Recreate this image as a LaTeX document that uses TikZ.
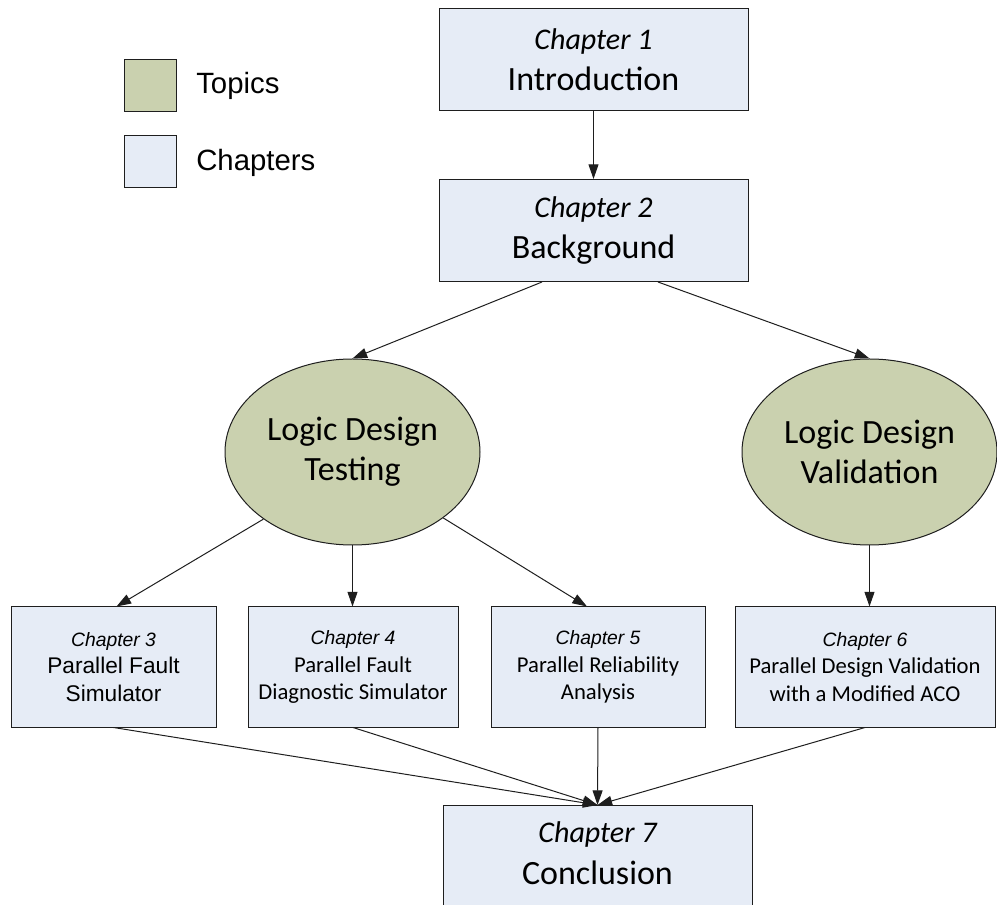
\documentclass[tikz,border=0pt]{standalone}
\usepackage{fontspec}
\setmainfont{Carlito}
\newfontfamily\arialfont{Liberation Sans}
\usetikzlibrary{arrows.meta,shapes.geometric,calc}

\definecolor{chapfill}{RGB}{230,236,246}
\definecolor{topicfill}{RGB}{202,209,175}
\definecolor{edgecol}{RGB}{30,30,30}

% chapter number lines
\newcommand\bigchapnum{\fontsize{22.5}{26}\selectfont\itshape}
\newcommand\smallchapnum{\arialfont\itshape\fontsize{14.5}{17}\selectfont}

\begin{document}
\begin{tikzpicture}[x=0.75pt,y=-0.75pt,
  chapbox/.style={draw=edgecol, line width=0.75pt, fill=chapfill, rectangle,
    inner sep=0pt, align=center},
  bigchap/.style={chapbox, minimum width=231.75pt, minimum height=76.5pt,
    font=\fontsize{25.5}{31}\selectfont},
  smallchap/.style={chapbox, minimum height=90pt,
    font=\fontsize{17}{20.5}\selectfont},
  topic/.style={draw=edgecol, line width=0.75pt, fill=topicfill, ellipse,
    inner sep=0pt, minimum width=191.25pt, minimum height=139.5pt,
    align=center, font=\fontsize{25.5}{30}\selectfont},
  legsq/.style={draw=edgecol, line width=0.75pt, minimum size=39pt, inner sep=0pt},
  legtext/.style={font=\arialfont\fontsize{22}{26}\selectfont, inner sep=0pt, anchor=base west},
  arr/.style={draw=edgecol, line width=0.75pt, -{Triangle[length=11pt,width=7.5pt]}}]

\useasboundingbox (0,0) rectangle (997,905);

% legend
\node[legsq, fill=topicfill] (legtopic) at (150,86) {};
\node[legsq, fill=chapfill] (legchap) at (150,162) {};
\node[legtext] (legtopiclbl) at (196,94) {Topics};
\node[legtext] (legchaplbl) at (196,171) {Chapters};

% chapters 1 and 2
\node[bigchap] (ch1) at (593.5,59.5) {{\bigchapnum Chapter 1}\\Introduction};
\node[bigchap] (ch2) at (593.5,230.5) {{\bigchapnum Chapter 2}\\Background};

% topics
\node[topic] (e1) at (352.5,452) {Logic Design\\Testing};
\node[topic] (e2) at (869.5,452) {Logic Design\\Validation};

% chapters 3 to 6
\node[smallchap, minimum width=153.75pt, font=\arialfont\fontsize{17}{20.5}\selectfont]
  (ch3) at (113.5,667) {{\smallchapnum Chapter 3}\\Parallel Fault\\Simulator};
\node[smallchap, minimum width=157.5pt] (ch4) at (353,667)
  {{\smallchapnum Chapter 4}\\Parallel Fault\\Diagnostic Simulator};
\node[smallchap, minimum width=160.5pt] (ch5) at (598,667)
  {{\smallchapnum Chapter 5}\\Parallel Reliability\\Analysis};
\node[smallchap, minimum width=195pt] (ch6) at (865,667)
  {{\smallchapnum Chapter 6}\\Parallel Design Validation\\with a Modified ACO};

% chapter 7, running off the bottom edge
\node[chapbox, minimum width=231.75pt, minimum height=80pt, anchor=north,
  label={[anchor=north, yshift=-12pt, inner sep=0pt, align=center,
    font=\fontsize{25.5}{31.5}\selectfont]north:{\bigchapnum Chapter 7}\\Conclusion}]
  (ch7) at (597.5,805) {};

% connectors
\draw[arr] (ch1.south) -- (ch2.north);
\draw[arr] ($(ch2.south)+(-51.5,0)$) -- (e1.north);
\draw[arr] ($(ch2.south)+(64.5,0)$) -- (e2.north);
\draw[arr] (e1.217) -- ($(ch3.north)+(3,0)$);
\draw[arr] (e1.south) -- (e1.south |- ch4.north);
\draw[arr] (e1.324) -- ($(ch5.north)+(-11,0)$);
\draw[arr] (e2.south) -- (e2.south |- ch6.north);
\draw[arr] (ch3.south) -- (ch7.north);
\draw[arr] (ch4.south) -- (ch7.north);
\draw[arr] (ch5.south) -- (ch7.north);
\draw[arr] (ch6.south) -- (ch7.north);

\end{tikzpicture}
\end{document}
